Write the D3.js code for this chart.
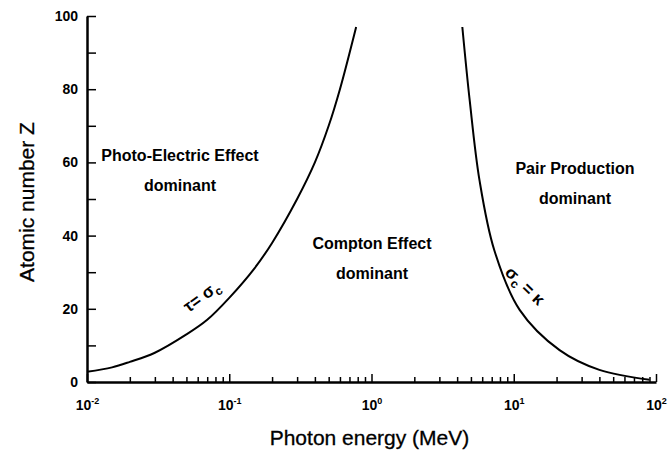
<!DOCTYPE html>
<html>
<head>
<meta charset="utf-8">
<script src="https://cdn.jsdelivr.net/npm/d3@7"></script>
<style>
  body { margin: 0; background: #fff; }
  text { font-family: "Liberation Sans", Arial, sans-serif; fill: #000; }
</style>
</head>
<body>
<svg id="chart" width="671" height="453"></svg>
<script>
// photo-electric / compton boundary (tau = sigma_c)
var peEnergy = [0.01, 0.015, 0.02, 0.03, 0.05, 0.07, 0.1, 0.15, 0.2, 0.3, 0.4, 0.5, 0.6, 0.78];
var peZ      = [2.8, 4, 5.5, 8, 13, 17, 23, 31, 38, 50, 60, 70, 80, 97];

// compton / pair boundary (sigma_c = kappa)
var ppEnergy = [4.35, 4.9, 5.75, 7.3, 11, 21, 40, 90];
var ppZ      = [97, 77, 55, 36, 19.7, 8.7, 3.3, 0.6];

var xDecades = [0.01, 0.1, 1, 10, 100];
var xExponents = ["-2", "-1", "0", "1", "2"];
var yTicks = [0, 10, 20, 30, 40, 50, 60, 70, 80, 90, 100];

var svg = d3.select("#chart"),
    margin = {top: 16, right: 15, bottom: 71, left: 87},
    width = +svg.attr("width") - margin.left - margin.right,
    height = +svg.attr("height") - margin.top - margin.bottom,
    g = svg.append("g").attr("transform", "translate(" + margin.left + "," + margin.top + ")");

var x = d3.scaleLog().domain([0.01, 100]).range([0, width]);
var y = d3.scaleLinear().domain([0, 100]).range([height, 0]);

// minor x ticks
var minor = [];
xDecades.slice(0, 4).forEach(function(d) {
  for (var k = 2; k <= 9; k++) minor.push(d * k);
});

g.append("g")
  .attr("transform", "translate(0," + height + ")")
  .call(d3.axisBottom(x).tickValues(minor).tickSizeInner(-5).tickSizeOuter(0).tickFormat(""))
  .call(function(a) { a.select(".domain").remove(); a.selectAll("line").attr("stroke-width", 1.5); });

var xa = g.append("g")
  .attr("transform", "translate(0," + height + ")")
  .call(d3.axisBottom(x).tickValues(xDecades).tickSizeInner(-8).tickSizeOuter(0).tickPadding(18).tickFormat(""));
xa.select(".domain").attr("stroke-width", 2.5);
xa.selectAll("line").attr("stroke-width", 1.5);
xa.selectAll(".tick text").each(function(d, i) {
  var t = d3.select(this).attr("font-size", 14).attr("font-weight", "bold");
  t.append("tspan").text("10");
  t.append("tspan").attr("dy", -6).attr("font-size", 9).text(xExponents[i]);
});

var ya = g.append("g")
  .call(d3.axisLeft(y).tickValues(yTicks).tickSizeInner(-9).tickSizeOuter(0).tickPadding(9)
    .tickFormat(function(d) { return d % 20 == 0 ? d : ""; }));
ya.select(".domain").attr("stroke-width", 2.5);
ya.selectAll("line").attr("stroke-width", 1.5);
ya.selectAll("text").attr("font-size", 14).attr("font-weight", "bold");

// axis titles
svg.append("text")
  .attr("x", margin.left + x(1) - 2).attr("y", 445)
  .attr("text-anchor", "middle").attr("font-size", 21)
  .attr("stroke", "#000").attr("stroke-width", 0.3)
  .text("Photon energy (MeV)");

svg.append("text")
  .attr("transform", "translate(34,202) rotate(-90)")
  .attr("text-anchor", "middle").attr("font-size", 21)
  .attr("stroke", "#000").attr("stroke-width", 0.3)
  .text("Atomic number Z");

// boundary curves
var line = d3.line()
  .x(function(d) { return x(d[0]); })
  .y(function(d) { return y(d[1]); })
  .curve(d3.curveCatmullRom.alpha(0.5));

g.append("path")
  .datum(d3.zip(peEnergy, peZ))
  .attr("fill", "none").attr("stroke", "#000").attr("stroke-width", 2)
  .attr("d", line);

g.append("path")
  .datum(d3.zip(ppEnergy, ppZ))
  .attr("fill", "none").attr("stroke", "#000").attr("stroke-width", 2)
  .attr("d", line);

// region labels
function label(lines, cx, cy) {
  var t = svg.append("text")
    .attr("text-anchor", "middle").attr("font-size", 16).attr("font-weight", "bold");
  lines.forEach(function(s, i) {
    t.append("tspan").attr("x", cx).attr("y", cy + i * 30).text(s);
  });
}
label(["Photo-Electric Effect", "dominant"], 180, 161);
label(["Compton Effect", "dominant"], 372, 249);
label(["Pair Production", "dominant"], 575, 174);

// curve annotations
var a1 = svg.append("text")
  .attr("transform", "translate(205,301) rotate(-36)")
  .attr("text-anchor", "middle").attr("font-size", 17).attr("font-weight", "bold");
a1.append("tspan").text("\u03C4= \u03C3");
a1.append("tspan").attr("dy", 4).attr("font-size", 12).text("c");

var a2 = svg.append("text")
  .attr("transform", "translate(521,290) rotate(44)")
  .attr("text-anchor", "middle").attr("font-size", 17).attr("font-weight", "bold");
a2.append("tspan").text("\u03C3");
a2.append("tspan").attr("dy", 4).attr("font-size", 12).text("c");
a2.append("tspan").attr("dy", -4).text(" = \u03BA");
</script>
</body>
</html>
